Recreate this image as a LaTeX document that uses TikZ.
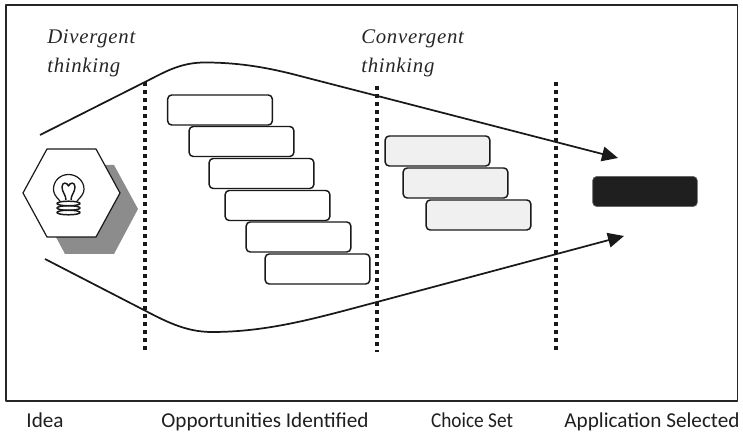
\documentclass[tikz,border=0pt]{standalone}
\usepackage{fontspec}
\setmainfont{Carlito}
\newfontfamily\thinkfont[LetterSpace=3.4]{Liberation Serif}
\newfontfamily\narrowcap[FakeStretch=0.91]{Carlito}
\usetikzlibrary{arrows.meta}
\begin{document}
\begin{tikzpicture}[x=0.75pt,y=-0.75pt,line join=round,
  idea/.style={draw=black!90,rounded corners=3pt,minimum width=78.5pt,minimum height=22.5pt,inner sep=0pt,line width=1.1pt,fill=white},
  choice/.style={idea,fill=black!6},
  selected/.style={idea,fill=black!88,draw=black!60,line width=0.5pt},
  caption/.style={inner sep=0pt,font=\fontsize{15.9}{18}\selectfont,text=black!88,anchor=base},
  think/.style={inner sep=0pt,anchor=base west,font=\thinkfont\itshape\fontsize{15.6}{18}\selectfont,text=black!85},
  divider/.style={line width=3pt,dash pattern=on 3pt off 3pt,black!90},
  flow/.style={line width=1.3pt,black!90,-{Triangle[length=12pt,width=11pt]}},
  bulb/.style={line width=0.9pt,black!90}]
\useasboundingbox (0,0) rectangle (743,434);
\draw[line width=1.3pt,black!85] (6,5) rectangle (737.5,401);

% dividers
\coordinate (d1a) at (145,82); \coordinate (d1b) at (145,350);
\coordinate (d2a) at (377,86); \coordinate (d2b) at (377,352);
\coordinate (d3a) at (556,82); \coordinate (d3b) at (556,350);
\draw[divider] (d1a) -- (d1b);
\draw[divider] (d2a) -- (d2b);
\draw[divider] (d3a) -- (d3b);

% envelope
\coordinate (ts) at (40,135); \coordinate (tt) at (618,158);
\coordinate (bs) at (45,259); \coordinate (bt) at (624,236);
\draw[flow] (ts) -- (145,82) .. controls (165,72) and (180,62.5) .. (205,62.5)
  .. controls (240,62.5) and (270,68) .. (300,76) -- (tt);
\draw[flow] (bs) -- (140,308) .. controls (165,321) and (185,332) .. (212,332)
  .. controls (270,332) and (320,317) .. (377,302) -- (bt);

% hexagon
\fill[black!45] (41,209) -- (65,165) -- (114,165) -- (138,209) -- (114,254) -- (65,254) -- cycle;
\fill[white] (23,193) -- (47,149) -- (96,149) -- (120,193) -- (96,237) -- (47,237) -- cycle;
\draw[line width=0.9pt,black!90] (23,193) -- (47,149) -- (96,149) -- (120,193) -- (96,237) -- (47,237) -- cycle;

% bulb
\draw[bulb] (60,201) .. controls (55,196) and (53.5,193) .. (53.5,189)
  .. controls (53.5,181) and (60,174.5) .. (68.5,174.5)
  .. controls (77,174.5) and (84,181) .. (84,189)
  .. controls (84,193) and (82,196) .. (77,201);
\draw[bulb,line width=1.1pt] (66,200) .. controls (66,195) and (62,192) .. (62,187)
  .. controls (62,182) and (67,182) .. (68.5,186) .. controls (70,182) and (75,182) .. (75,187)
  .. controls (75,192) and (71,195) .. (71,200);
\foreach \yy in {203.5,208,212.5}
  \draw[bulb,line width=1.1pt] (68.5,\yy) ellipse [x radius=11.5,y radius=2.3];

% boxes
\node[idea] (o1) at (220,110) {};
\node[idea] (o2) at (241.5,141.5) {};
\node[idea] (o3) at (261.5,173.5) {};
\node[idea] (o4) at (277.5,205.5) {};
\node[idea] (o5) at (298.5,237) {};
\node[idea] (o6) at (317.5,269) {};
\node[choice] (c1) at (437.5,151) {};
\node[choice] (c2) at (455.5,183) {};
\node[choice] (c3) at (478.5,215) {};
\node[selected] (s1) at (645,191.5) {};

% labels
\node[think] (t1) at (47,44) {Divergent};
\node[think] (t2) at (47,73) {thinking};
\node[think] (t3) at (361,44) {Convergent};
\node[think] (t4) at (361,73) {thinking};
\node[caption] (l1) at (45,428) {Idea};
\node[caption] (l2) at (265,428) {Opportunities Identified};
\node[caption,font=\narrowcap\fontsize{15.9}{18}\selectfont] (l3) at (472,428) {Choice Set};
\node[caption] (l4) at (652,428) {Application Selected};
\end{tikzpicture}
\end{document}
